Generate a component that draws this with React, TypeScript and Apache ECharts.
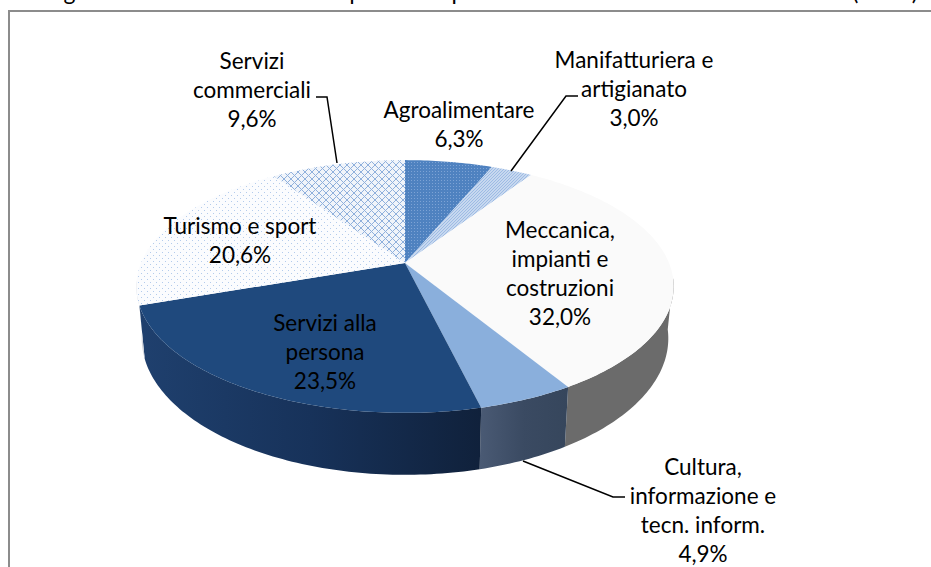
import React, { useEffect, useRef } from "react";
import * as echarts from "echarts";

const titleText = "Figura 3 - Distribuzione delle qualificate per macro-settore di attività economica (2010)";
const sectors = ["Agroalimentare", "Manifatturiera e\nartigianato", "Meccanica,\nimpianti e\ncostruzioni", "Cultura,\ninformazione e\ntecn. inform.", "Servizi alla\npersona", "Turismo e sport", "Servizi\ncommerciali"];
const shares = [6.3, 3.0, 32.0, 4.9, 23.5, 20.6, 9.6];
const shareLabels = ["6,3%", "3,0%", "32,0%", "4,9%", "23,5%", "20,6%", "9,6%"];

// layout (centre x, y of first line middle)
const labelAnchors = [[459, 109], [634, 59], [560, 229], [703, 466], [325, 322], [240, 225], [252, 60]];
const leaders = [
  [[578, 96], [566, 96], [511, 171]],
  [[625, 497], [613, 497], [523, 461]],
  [[316, 97], [327, 97], [337, 163]],
];

const FONT = "Lato";
const FONT_SIZE = 22.5;
const LINE_H = 29;
const CX = 405, CY = 263, B = 264, A = 122, C = 0.1858;
const DEPTH = 50, KX = 0.98, KY = 1.08;

function patternFill(size: number, bg: string, fg: string, on: (x: number, y: number) => boolean) {
  const c = document.createElement("canvas");
  c.width = size; c.height = size;
  const g = c.getContext("2d")!;
  g.fillStyle = bg; g.fillRect(0, 0, size, size);
  g.fillStyle = fg;
  for (let y = 0; y < size; y++) for (let x = 0; x < size; x++) if (on(x, y)) g.fillRect(x, y, 1, 1);
  return { image: c.toDataURL(), imageWidth: size, imageHeight: size, repeat: "repeat" };
}

function top(deg: number): [number, number] {
  const t = (deg * Math.PI) / 180;
  const u = Math.sin(t), v = Math.cos(t), w = 1 + C * v;
  return [CX + (B * u) / w, CY - (A * v) / w];
}
function low(deg: number): [number, number] {
  const [x, y] = top(deg);
  return [CX + KX * (x - CX), CY + DEPTH + KY * (y - CY)];
}
function arc(fn: (d: number) => [number, number], a: number, b: number) {
  const pts: [number, number][] = [];
  const n = Math.max(2, Math.ceil(Math.abs(b - a)));
  for (let i = 0; i <= n; i++) pts.push(fn(a + ((b - a) * i) / n));
  return pts;
}
function hGrad(stops: string[]) {
  return { type: "linear", x: 0, y: 0, x2: 1, y2: 0, colorStops: stops.map((color, i) => ({ offset: i / (stops.length - 1), color })) };
}

export default function App() {
  const ref = useRef<HTMLDivElement>(null);
  useEffect(() => {
    document.body.style.margin = "0";
    document.body.style.background = "#fff";
    document.body.style.overflow = "hidden";
    const chart = echarts.init(ref.current!, undefined, { renderer: "svg" });
    const fills: any[] = [
      patternFill(3, "#4f82c0", "#7da3d5", (x, y) => x === 0 && y === 0),
      patternFill(3, "#c7d8ef", "#9dbbe4", (x, y) => (x + y) % 3 === 0),
      "#fafafa",
      "#8aafdc",
      "#1f497d",
      patternFill(6, "#fbfcfe", "#b3cbec", (x, y) => (x === 0 && y === 0) || (x === 3 && y === 3)),
      patternFill(7, "#f0f4fa", "#8fb0dc", (x, y) => (x + y) % 7 === 0 || ((x - y + 7) % 7) === 0),
    ];
    const sideFills: any[] = [
      "#335a88", "#9aa5b5", "#6b6b6b",
      hGrad(["#4a5a74", "#3a4a62", "#36465c"]),
      hGrad(["#1f406e", "#17325a", "#10213b"]),
      "#cfd3da", "#cfd3da",
    ];
    const total = 100;
    const starts: number[] = [];
    shares.reduce((acc, v, i) => { starts[i] = acc; return acc + v; }, 0);

    const renderItem = (params: any, api: any) => {
      const i = params.dataIndex;
      const a = (starts[i] / total) * 360;
      const b = i === shares.length - 1 ? 360 : a + (api.value(0) / total) * 360;
      const children: any[] = [];
      const sa = Math.max(a, 97), sb = Math.min(b, 262);
      if (sb > sa) {
        children.push({
          type: "polygon",
          shape: { points: [...arc(top, sa, sb), ...arc(low, sb, sa)] },
          style: { fill: sideFills[i], stroke: null },
        });
      }
      children.push({
        type: "polygon",
        shape: { points: [[CX, CY], ...arc(top, a, b)] },
        style: { fill: fills[i], stroke: null },
      });
      return { type: "group", children };
    };

    const graphic: any[] = [
      { type: "polyline", shape: { points: [[9, 567], [9, 11], [931, 11]] }, style: { stroke: "#8c8c8c", lineWidth: 2, fill: null }, z: 1 },
      { type: "text", style: { text: titleText, x: 45, y: 2, font: `23px ${FONT}`, fill: "#000", verticalAlign: "bottom", align: "left" }, z: 5 },
    ];
    leaders.forEach((pts) =>
      graphic.push({ type: "polyline", shape: { points: pts }, style: { stroke: "#000", lineWidth: 1.5, fill: null }, z: 5 })
    );
    sectors.forEach((s, i) => {
      graphic.push({
        type: "text",
        z: 6,
        style: {
          text: `${s}\n${shareLabels[i]}`,
          x: labelAnchors[i][0],
          y: labelAnchors[i][1] - LINE_H / 2,
          font: `${FONT_SIZE}px ${FONT}`,
          lineHeight: LINE_H,
          fill: "#000",
          align: "center",
          verticalAlign: "top",
        },
      });
    });

    chart.setOption({
      animation: false,
      backgroundColor: "#fff",
      graphic,
      series: [
        {
          type: "custom",
          coordinateSystem: "none",
          renderItem,
          data: shares.map((v) => [v]),
          silent: true,
          z: 2,
        },
      ],
    });
    return () => chart.dispose();
  }, []);
  return <div ref={ref} style={{ position: "fixed", left: 0, top: 0, width: 931, height: 567 }} />;
}
